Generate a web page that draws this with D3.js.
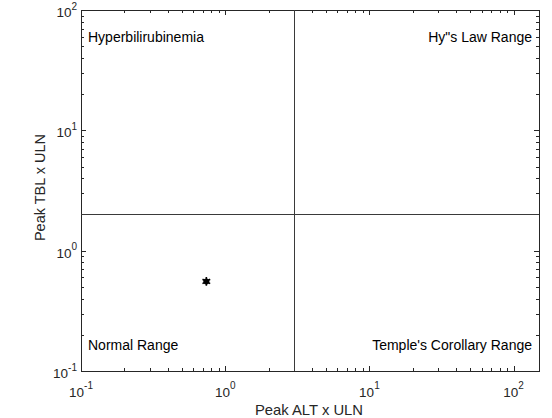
<!DOCTYPE html>
<html>
<head>
<meta charset="utf-8">
<script src="https://cdn.jsdelivr.net/npm/d3@7"></script>
<style>
  html, body { margin: 0; padding: 0; background: #fff; }
  svg { display: block; font-family: "Liberation Sans", Arial, sans-serif; }
</style>
</head>
<body>
<svg id="chart" width="552" height="418"></svg>
<script>
// Patient peak values (multiples of upper limit of normal)
const altValues = [0.74];
const tblValues = [0.555];

// Axis limits and decade ticks
const xDomain = [0.1, 150];
const yDomain = [0.1, 100];
const xMajorTicks = [0.1, 1, 10, 100];
const yMajorTicks = [0.1, 1, 10, 100];
const xTickExponents = ["-1", "0", "1", "2"];
const yTickExponents = ["-1", "0", "1", "2"];

// Thresholds for Hy's Law quadrants
const altThreshold = [3];
const tblThreshold = [2];

// Quadrant names
const quadrantLabels = ["Hyperbilirubinemia", "Hy\"s Law Range", "Normal Range", "Temple's Corollary Range"];
const xLabel = "Peak ALT x ULN";
const yLabel = "Peak TBL x ULN";

const margin = { left: 81, right: 13, top: 10, bottom: 47 };
const W = 552, H = 418;
const iw = W - margin.left - margin.right;
const ih = H - margin.top - margin.bottom;

const svg = d3.select("#chart");
const g = svg.append("g").attr("transform", `translate(${margin.left},${margin.top})`);

const x = d3.scaleLog().domain(xDomain).range([0, iw]);
const y = d3.scaleLog().domain(yDomain).range([ih, 0]);

const axisColor = "#262626";

// minor ticks: 1..9 within each decade
function decadeTicks(domain) {
  const out = [];
  for (let e = -2; e <= 3; e++) {
    for (let m = 1; m <= 9; m++) {
      const v = m * Math.pow(10, e);
      if (v >= domain[0] - 1e-12 && v <= domain[1] + 1e-12) out.push(v);
    }
  }
  return out;
}
const xAll = decadeTicks(xDomain);
const yAll = decadeTicks(yDomain);
const isMajor = v => Math.abs(Math.log10(v) - Math.round(Math.log10(v))) < 1e-9;

// ticks drawn inward on all four sides
const tickG = g.append("g").attr("stroke", axisColor).attr("stroke-width", 1).attr("shape-rendering", "crispEdges");
xAll.forEach(v => {
  const len = isMajor(v) ? 5 : 3;
  const px = Math.round(x(v)) + 0.5;
  tickG.append("line").attr("x1", px).attr("x2", px).attr("y1", ih).attr("y2", ih - len);
  tickG.append("line").attr("x1", px).attr("x2", px).attr("y1", 0).attr("y2", len);
});
yAll.forEach(v => {
  const len = isMajor(v) ? 5 : 3;
  const py = Math.round(y(v)) + 0.5;
  tickG.append("line").attr("x1", 0).attr("x2", len).attr("y1", py).attr("y2", py);
  tickG.append("line").attr("x1", iw).attr("x2", iw - len).attr("y1", py).attr("y2", py);
});

// box
g.append("rect")
  .attr("x", 0.5).attr("y", 0.5).attr("width", iw).attr("height", ih)
  .attr("fill", "none").attr("stroke", axisColor).attr("stroke-width", 1)
  .attr("shape-rendering", "crispEdges");

// threshold lines
altThreshold.forEach(v => {
  const px = Math.round(x(v)) + 0.5;
  g.append("line").attr("x1", px).attr("x2", px).attr("y1", 0).attr("y2", ih)
    .attr("stroke", "#3a3a3a").attr("stroke-width", 1).attr("shape-rendering", "crispEdges");
});
tblThreshold.forEach(v => {
  const py = Math.round(y(v)) + 0.5;
  g.append("line").attr("x1", 0).attr("x2", iw).attr("y1", py).attr("y2", py)
    .attr("stroke", "#3a3a3a").attr("stroke-width", 1).attr("shape-rendering", "crispEdges");
});

// tick labels as 10^n
const fs = 13.5, sfs = 10;
xMajorTicks.forEach((v, i) => {
  const t = g.append("text").attr("x", x(v)).attr("y", ih + 25.5)
    .attr("text-anchor", "middle").attr("fill", axisColor).attr("font-size", fs);
  t.append("tspan").text("10");
  t.append("tspan").attr("dy", -7.5).attr("font-size", sfs).text(xTickExponents[i]);
});
yMajorTicks.forEach((v, i) => {
  const t = g.append("text").attr("x", -4).attr("y", y(v) + 7)
    .attr("text-anchor", "end").attr("fill", axisColor).attr("font-size", fs);
  t.append("tspan").text("10");
  t.append("tspan").attr("dy", -7.5).attr("font-size", sfs).text(yTickExponents[i]);
});

// axis titles
g.append("text").attr("x", iw / 2 - 1).attr("y", ih + 44)
  .attr("text-anchor", "middle").attr("fill", axisColor).attr("font-size", 14.8).text(xLabel);
g.append("text").attr("transform", `translate(${-36},${ih / 2 - 3}) rotate(-90)`)
  .attr("text-anchor", "middle").attr("fill", axisColor).attr("font-size", 14.5).text(yLabel);

// quadrant names
const qfs = 14;
g.append("text").attr("x", 7).attr("y", 32).attr("font-size", qfs).attr("fill", "#000").text(quadrantLabels[0]);
g.append("text").attr("x", iw - 7).attr("y", 32).attr("text-anchor", "end").attr("font-size", qfs).attr("fill", "#000").text(quadrantLabels[1]);
g.append("text").attr("x", 7).attr("y", ih - 21).attr("font-size", qfs).attr("fill", "#000").text(quadrantLabels[2]);
g.append("text").attr("x", iw - 7).attr("y", ih - 21).attr("text-anchor", "end").attr("font-size", qfs).attr("fill", "#000").text(quadrantLabels[3]);

// data markers
const pts = altValues.map((a, i) => [a, tblValues[i]]);
const mk = g.append("g").selectAll("g").data(pts).join("g")
  .attr("transform", d => `translate(${x(d[0])},${y(d[1])})`);
mk.append("path").attr("d", d3.symbol(d3.symbolAsterisk, 55)()).attr("stroke", "#000").attr("stroke-width", 1.6).attr("fill", "none");
mk.append("circle").attr("r", 3).attr("fill", "#000");
</script>
</body>
</html>
